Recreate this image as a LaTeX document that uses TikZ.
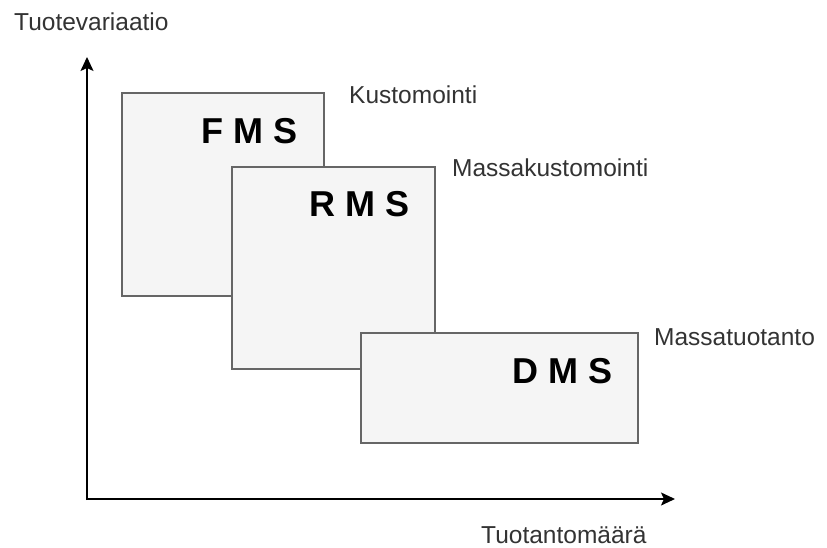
\documentclass[tikz,border=0pt]{standalone}
\usepackage{fontspec}
\setmainfont{Liberation Sans}
\usetikzlibrary{arrows.meta}
\definecolor{boxfill}{HTML}{F5F5F5}
\definecolor{boxline}{HTML}{666666}
\definecolor{txt}{HTML}{333333}
\begin{document}
\begin{tikzpicture}[x=1pt,y=-1pt,
  sysbox/.style={draw=boxline,fill=boxfill,line width=1.3pt},
  syslabel/.style={anchor=base east,inner sep=0pt,font=\fontsize{36}{40}\selectfont\bfseries,text=black},
  axlabel/.style={anchor=base west,inner sep=0pt,font=\fontsize{24.5}{28}\selectfont,text=txt},
  axis/.style={line width=1.6pt,-{Stealth[length=14pt,width=13pt,inset=3pt]}}]
\useasboundingbox (0,0) rectangle (827,548);
% boxes
\draw[sysbox] (122,93) rectangle (324,296);
\node[syslabel] (fms) at (298,144) {F M S};
\draw[sysbox] (232,167) rectangle (435,369);
\node[syslabel] (rms) at (410,217) {R M S};
\draw[sysbox] (361,333) rectangle (638,443);
\node[syslabel] (dms) at (613,383) {D M S};
% labels
\node[axlabel] (kus) at (349,104) {Kustomointi};
\node[axlabel] (mk) at (452,177) {Massakustomointi};
\node[axlabel] (mt) at (654,345) {Massatuotanto};
\node[axlabel] (yl) at (14,31) {Tuotevariaatio};
\node[axlabel] (xl) at (481,543) {Tuotantomäärä};
% axes
\coordinate (o) at (87,499);
\coordinate (ytip) at (87,57);
\coordinate (xtip) at (675,499);
\draw[axis] (87,500) -- (ytip);
\draw[axis] (86,499) -- (xtip);
\end{tikzpicture}
\end{document}
